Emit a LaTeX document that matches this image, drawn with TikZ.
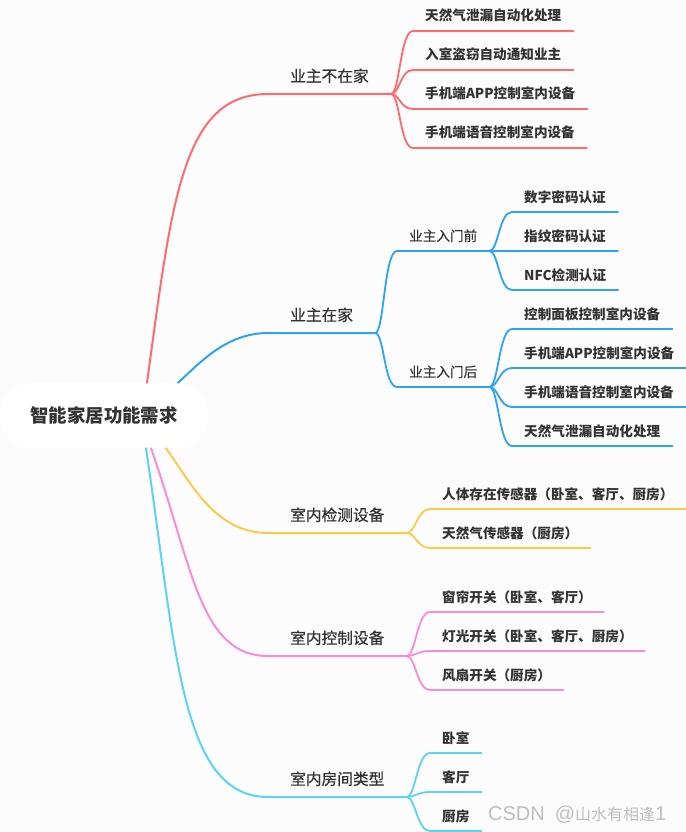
\documentclass[tikz,border=0pt]{standalone}
\usepackage{fontspec}
\newfontfamily\cjk{Noto Sans CJK SC}
\newfontfamily\cjkm{Noto Sans CJK SC}[FakeBold=0.45]
\newfontfamily\lat{Liberation Sans}
\definecolor{bg}{HTML}{FCFCFC}
\definecolor{txt}{HTML}{333333}
\definecolor{cR}{HTML}{FF6B6E}
\definecolor{cB}{HTML}{2EA3F5}
\definecolor{cY}{HTML}{FFC94A}
\definecolor{cP}{HTML}{F98BDA}
\definecolor{cC}{HTML}{5CD3F5}
\definecolor{wmc}{HTML}{BEBEBE}
\tikzset{
  rootbox/.style={fill=white, rounded corners=32pt, minimum width=208pt, minimum height=65pt,
    inner sep=0pt, text=txt, font=\cjk\bfseries\fontsize{18.4}{20}\selectfont},
  lone/.style={anchor=south west, inner xsep=22pt, inner ysep=0pt, text height=14pt, text depth=12pt,
    text=txt, font=\cjkm\fontsize{15.7}{17}\selectfont},
  subbox/.style={anchor=south west, inner xsep=12pt, inner ysep=0pt, text height=12pt, text depth=9.8pt,
    text=txt, font=\cjkm\fontsize{13.6}{15}\selectfont},
  leaf/.style={anchor=south west, inner xsep=12pt, inner ysep=0pt, text height=12pt, text depth=9.8pt,
    text=txt, font=\cjk\bfseries\fontsize{13.6}{15}\selectfont},
  wmark/.style={anchor=west, inner sep=0pt, text=wmc},
  branch/.style={line width=2pt, line cap=round},
  twig/.style={line width=1.8pt, line cap=round},
}
\begin{document}
\begin{tikzpicture}[x=1pt,y=-1pt]
\fill[bg] (0,0) rectangle (685,832);
\useasboundingbox (0,0) rectangle (685,832);

% root
\node[rootbox] (root) at (104,415.5) {智能家居功能需求};

% level 1
\node[lone] (a) at (268,94) {业主不在家};
\node[lone] (b) at (268,333) {业主在家};
\node[lone] (c) at (268,533) {室内检测设备};
\node[lone] (d) at (268,656) {室内控制设备};
\node[lone] (e) at (268,797) {室内房间类型};

\draw[branch,cR] ([xshift=43pt]root.north) .. controls (172,200) and (182,94) .. (a.south west) -- (a.south east);
\draw[branch,cB] ([xshift=74pt]root.north) .. controls (198,365) and (225,333) .. (b.south west) -- (b.south east);
\draw[branch,cY] ([xshift=62pt]root.south) .. controls (191,483) and (215,533) .. (c.south west) -- (c.south east);
\draw[branch,cP] ([xshift=47pt]root.south) .. controls (193,568) and (200,656) .. (d.south west) -- (d.south east);
\draw[branch,cC] ([xshift=42pt]root.south) .. controls (176,648) and (180,797) .. (e.south west) -- (e.south east);

% red children
\node[leaf] (a1) at (413,31) {天然气泄漏自动化处理};
\node[leaf] (a2) at (413,70) {入室盗窃自动通知业主};
\node[leaf] (a3) at (413,109) {手机端APP控制室内设备};
\node[leaf] (a4) at (413,148) {手机端语音控制室内设备};
\foreach \n in {a1,a2,a3,a4}
  \draw[twig,cR] (a.south east) .. controls +(9,0) and +(-13,0) .. (\n.south west) -- (\n.south east);

% blue sub-levels
\node[subbox] (b1) at (397,251) {业主入门前};
\node[subbox] (b2) at (397,387) {业主入门后};
\foreach \n in {b1,b2}
  \draw[twig,cB] (b.south east) .. controls +(9,0) and +(-13,0) .. (\n.south west) -- (\n.south east);

\node[leaf] (b11) at (512,212) {数字密码认证};
\node[leaf] (b12) at (512,251) {指纹密码认证};
\node[leaf] (b13) at (512,290) {NFC检测认证};
\foreach \n in {b11,b12,b13}
  \draw[twig,cB] (b1.south east) .. controls +(9,0) and +(-13,0) .. (\n.south west) -- (\n.south east);

\node[leaf] (b21) at (512,329) {控制面板控制室内设备};
\node[leaf] (b22) at (512,368) {手机端APP控制室内设备};
\node[leaf] (b23) at (512,407) {手机端语音控制室内设备};
\node[leaf] (b24) at (512,446) {天然气泄漏自动化处理};
\foreach \n in {b21,b22,b23,b24}
  \draw[twig,cB] (b2.south east) .. controls +(9,0) and +(-13,0) .. (\n.south west) -- (\n.south east);

% yellow children
\node[leaf] (c1) at (430,509) {人体存在传感器（卧室、客厅、厨房）};
\node[leaf] (c2) at (430,548) {天然气传感器（厨房）};
\foreach \n in {c1,c2}
  \draw[twig,cY] (c.south east) .. controls +(9,0) and +(-13,0) .. (\n.south west) -- (\n.south east);

% pink children
\node[leaf] (d1) at (430,612) {窗帘开关（卧室、客厅）};
\node[leaf] (d2) at (430,651) {灯光开关（卧室、客厅、厨房）};
\node[leaf] (d3) at (430,690) {风扇开关（厨房）};
\foreach \n in {d1,d2,d3}
  \draw[twig,cP] (d.south east) .. controls +(9,0) and +(-13,0) .. (\n.south west) -- (\n.south east);

% cyan children
\node[leaf] (e1) at (430,753) {卧室};
\node[leaf] (e2) at (430,792) {客厅};
\node[leaf] (e3) at (430,831) {厨房};
\foreach \n in {e1,e2,e3}
  \draw[twig,cC] (e.south east) .. controls +(9,0) and +(-13,0) .. (\n.south west) -- (\n.south east);

% watermark
\node[wmark] (wm) at (488,815) {{\lat\fontsize{20}{22}\selectfont CSDN\hspace{10pt}@}{\cjk\fontsize{16}{18}\selectfont 山水有相逢}{\lat\fontsize{20}{22}\selectfont 1}};
\end{tikzpicture}
\end{document}
